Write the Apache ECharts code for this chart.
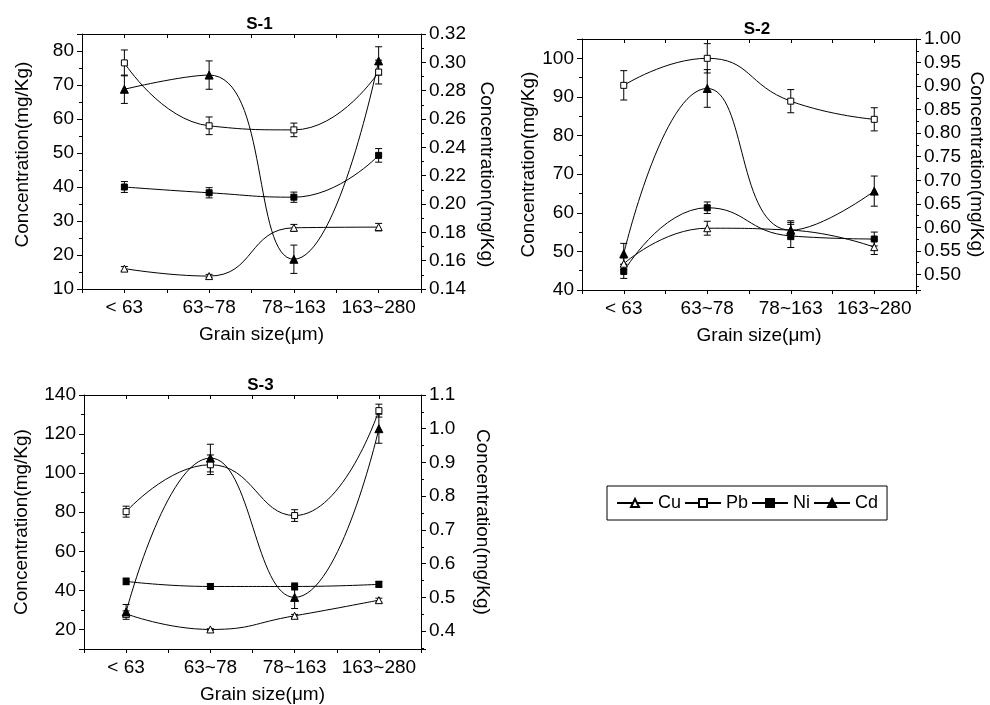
<!DOCTYPE html>
<html>
<head>
<meta charset="utf-8">
<script src="https://cdn.jsdelivr.net/npm/echarts@6/dist/echarts.min.js"></script>
<style>
  html, body { margin: 0; padding: 0; background: #fff; }
  #chart { width: 990px; height: 705px; }
</style>
</head>
<body>
<div id="chart"></div>
<script>
const categories = ['< 63', '63~78', '78~163', '163~280'];
const metals = ['Cu', 'Pb', 'Ni', 'Cd'];
const panelTitles = ['S-1', 'S-2', 'S-3'];

// S-1 (Cd on right axis)
const cuS1 = [16.0, 13.8, 28.0, 28.2];
const cuErrS1 = [0.6, 0.5, 1.0, 1.1];
const pbS1 = [76.5, 58.0, 56.8, 73.8];
const pbErrS1 = [3.8, 2.6, 2.0, 3.5];
const niS1 = [40.0, 38.3, 37.0, 49.3];
const niErrS1 = [1.6, 1.5, 1.5, 2.0];
const cdS1 = [0.281, 0.291, 0.161, 0.301];
const cdErrS1 = [0.010, 0.010, 0.010, 0.010];

// S-2
const cuS2 = [46.8, 56.0, 55.5, 51.1];
const cuErrS2 = [1.5, 1.8, 2.0, 1.9];
const pbS2 = [93.0, 100.0, 88.9, 84.2];
const pbErrS2 = [3.8, 3.8, 3.0, 3.0];
const niS2 = [44.8, 61.3, 54.0, 53.2];
const niErrS2 = [1.8, 1.5, 3.0, 1.8];
const cdS2 = [0.544, 0.895, 0.594, 0.677];
const cdErrS2 = [0.022, 0.040, 0.020, 0.032];

// S-3
const cuS3 = [28.0, 20.0, 27.0, 35.0];
const cuErrS3 = [1.5, 0.4, 0.7, 1.0];
const pbS3 = [80.3, 104.3, 78.3, 132.0];
const pbErrS3 = [2.8, 5.0, 3.0, 3.3];
const niS3 = [44.6, 42.0, 42.0, 43.1];
const niErrS3 = [1.7, 1.5, 1.8, 1.5];
const cdS3 = [0.457, 0.913, 0.500, 1.000];
const cdErrS3 = [0.022, 0.041, 0.033, 0.043];

const panels = [
  { vals: [cuS1, pbS1, niS1, cdS1], errs: [cuErrS1, pbErrS1, niErrS1, cdErrS1] },
  { vals: [cuS2, pbS2, niS2, cdS2], errs: [cuErrS2, pbErrS2, niErrS2, cdErrS2] },
  { vals: [cuS3, pbS3, niS3, cdS3], errs: [cuErrS3, pbErrS3, niErrS3, cdErrS3] },
];

const font = "'Liberation Sans', Arial, sans-serif";
const black = '#000';

const grids = [
  { left: 82, top: 34, width: 339, height: 255 },
  { left: 582, top: 39, width: 334, height: 251 },
  { left: 84, top: 395, width: 337, height: 255 },
];

// left / right axis settings per panel
const leftAxes = [
  { min: 10, max: 85, interval: 10, nameGap: 50, pad: [0, 0, 0, 14] },
  { min: 40, max: 105, interval: 10, nameGap: 40, pad: 0 },
  { min: 10, max: 140, splitNumber: 7, nameGap: 53, pad: 0 },
];
const rightAxes = [
  { min: 0.14, max: 0.32, interval: 0.02, digits: 2, nameGap: 56, pad: [0, 0, 0, 26] },
  { min: 0.467, max: 1.0, splitNumber: 10, digits: 2, nameGap: 51, pad: 0 },
  { min: 0.347, max: 1.1, splitNumber: 8, digits: 1, nameGap: 52, pad: 0 },
];

const symbols = ['triangle', 'rect', 'rect', 'triangle'];
const symbolSizes = [7, 6, 6, 8];
const fills = ['#fff', '#fff', black, black];

const labelStyle = { color: black, fontSize: 19, fontFamily: font };
const lineAxis = { onZero: false, lineStyle: { color: black, width: 1 } };

const xAxes = [];
const yAxes = [];
const series = [];
const titles = [];

grids.forEach((g, p) => {
  titles.push({
    text: panelTitles[p],
    left: g.left + g.width / 2 + 3,
    top: g.top - 23,
    textAlign: 'center',
    textStyle: { fontSize: 17, fontWeight: 'bold', color: black, fontFamily: font },
  });

  xAxes.push({
    type: 'value', gridIndex: p, position: 'bottom',
    min: -0.5, max: 3.5, interval: 0.5,
    name: 'Grain size(μm)', nameLocation: 'middle', nameGap: 36,
    nameTextStyle: { ...labelStyle, padding: [0, 0, 0, 20] },
    axisLine: lineAxis,
    axisTick: { show: true, inside: false, length: 4, lineStyle: { color: black } },
    axisLabel: {
      ...labelStyle, margin: 9,
      formatter: v => (Number.isInteger(v) && v >= 0 && v < categories.length) ? categories[v] : '',
    },
    splitLine: { show: false },
  });
  xAxes.push({
    type: 'value', gridIndex: p, position: 'top',
    min: -0.5, max: 3.5, interval: 0.5,
    axisLine: lineAxis,
    axisTick: { show: true, inside: true, length: 4, lineStyle: { color: black } },
    axisLabel: { show: false },
    splitLine: { show: false },
  });

  const la = leftAxes[p];
  yAxes.push({
    type: 'value', gridIndex: p, position: 'left',
    min: la.min, max: la.max, interval: la.interval, splitNumber: la.splitNumber,
    name: 'Concentration(mg/Kg)', nameLocation: 'middle', nameGap: la.nameGap,
    nameTextStyle: { ...labelStyle, padding: la.pad },
    axisLine: { show: true, ...lineAxis },
    axisTick: { show: true, inside: false, length: 5, lineStyle: { color: black } },
    minorTick: { show: true, splitNumber: 2, length: 3, lineStyle: { color: black } },
    axisLabel: { ...labelStyle, margin: 8, showMinLabel: !!la.interval, showMaxLabel: !la.interval },
    splitLine: { show: false },
  });

  const ra = rightAxes[p];
  yAxes.push({
    type: 'value', gridIndex: p, position: 'right',
    min: ra.min, max: ra.max, interval: ra.interval, splitNumber: ra.splitNumber,
    name: 'Concentration(mg/Kg)', nameLocation: 'middle', nameGap: ra.nameGap, nameRotate: -90,
    nameTextStyle: { ...labelStyle, padding: ra.pad },
    axisLine: { show: true, ...lineAxis },
    axisTick: { show: true, inside: false, length: 5, lineStyle: { color: black } },
    minorTick: { show: true, splitNumber: 2, length: 3, lineStyle: { color: black } },
    axisLabel: {
      ...labelStyle, margin: 8,
      showMinLabel: !!ra.interval, showMaxLabel: true,
      formatter: v => v.toFixed(ra.digits),
    },
    splitLine: { show: false },
  });

  const pn = panels[p];
  metals.forEach((m, k) => {
    const yIdx = k === 3 ? 2 * p + 1 : 2 * p;
    series.push({
      type: 'line', name: m, xAxisIndex: 2 * p, yAxisIndex: yIdx,
      data: pn.vals[k].map((v, i) => [i, v]),
      smooth: 0.5,
      symbol: symbols[k], symbolSize: symbolSizes[k],
      lineStyle: { color: black, width: 1 },
      itemStyle: { color: fills[k], borderColor: black, borderWidth: 1 },
      z: 4,
    });
  });
  metals.forEach((m, k) => {
    const yIdx = k === 3 ? 2 * p + 1 : 2 * p;
    series.push({
      type: 'custom', xAxisIndex: 2 * p, yAxisIndex: yIdx, silent: true, z: 3,
      data: pn.vals[k].map((v, i) => [i, v - pn.errs[k][i], v + pn.errs[k][i]]),
      encode: { x: 0, y: [1, 2] },
      renderItem: (params, api) => {
        const x = api.value(0);
        const lo = api.coord([x, api.value(1)]);
        const hi = api.coord([x, api.value(2)]);
        const w = 3.5;
        const st = { stroke: black, lineWidth: 1 };
        return {
          type: 'group',
          children: [
            { type: 'line', shape: { x1: lo[0], y1: lo[1], x2: hi[0], y2: hi[1] }, style: st },
            { type: 'line', shape: { x1: lo[0] - w, y1: lo[1], x2: lo[0] + w, y2: lo[1] }, style: st },
            { type: 'line', shape: { x1: hi[0] - w, y1: hi[1], x2: hi[0] + w, y2: hi[1] }, style: st },
          ],
        };
      },
    });
  });
});

const chart = echarts.init(document.getElementById('chart'), null, { renderer: 'canvas' });
chart.setOption({
  animation: false,
  backgroundColor: '#fff',
  title: titles,
  legend: {
    data: metals,
    left: 607, top: 486,
    orient: 'horizontal',
    itemWidth: 36, itemHeight: 10, itemGap: 3,
    padding: [8, 9],
    borderColor: black, borderWidth: 1,
    textStyle: { color: black, fontSize: 18, fontFamily: font },
  },
  grid: grids,
  xAxis: xAxes,
  yAxis: yAxes,
  series: series,
});
</script>
</body>
</html>
